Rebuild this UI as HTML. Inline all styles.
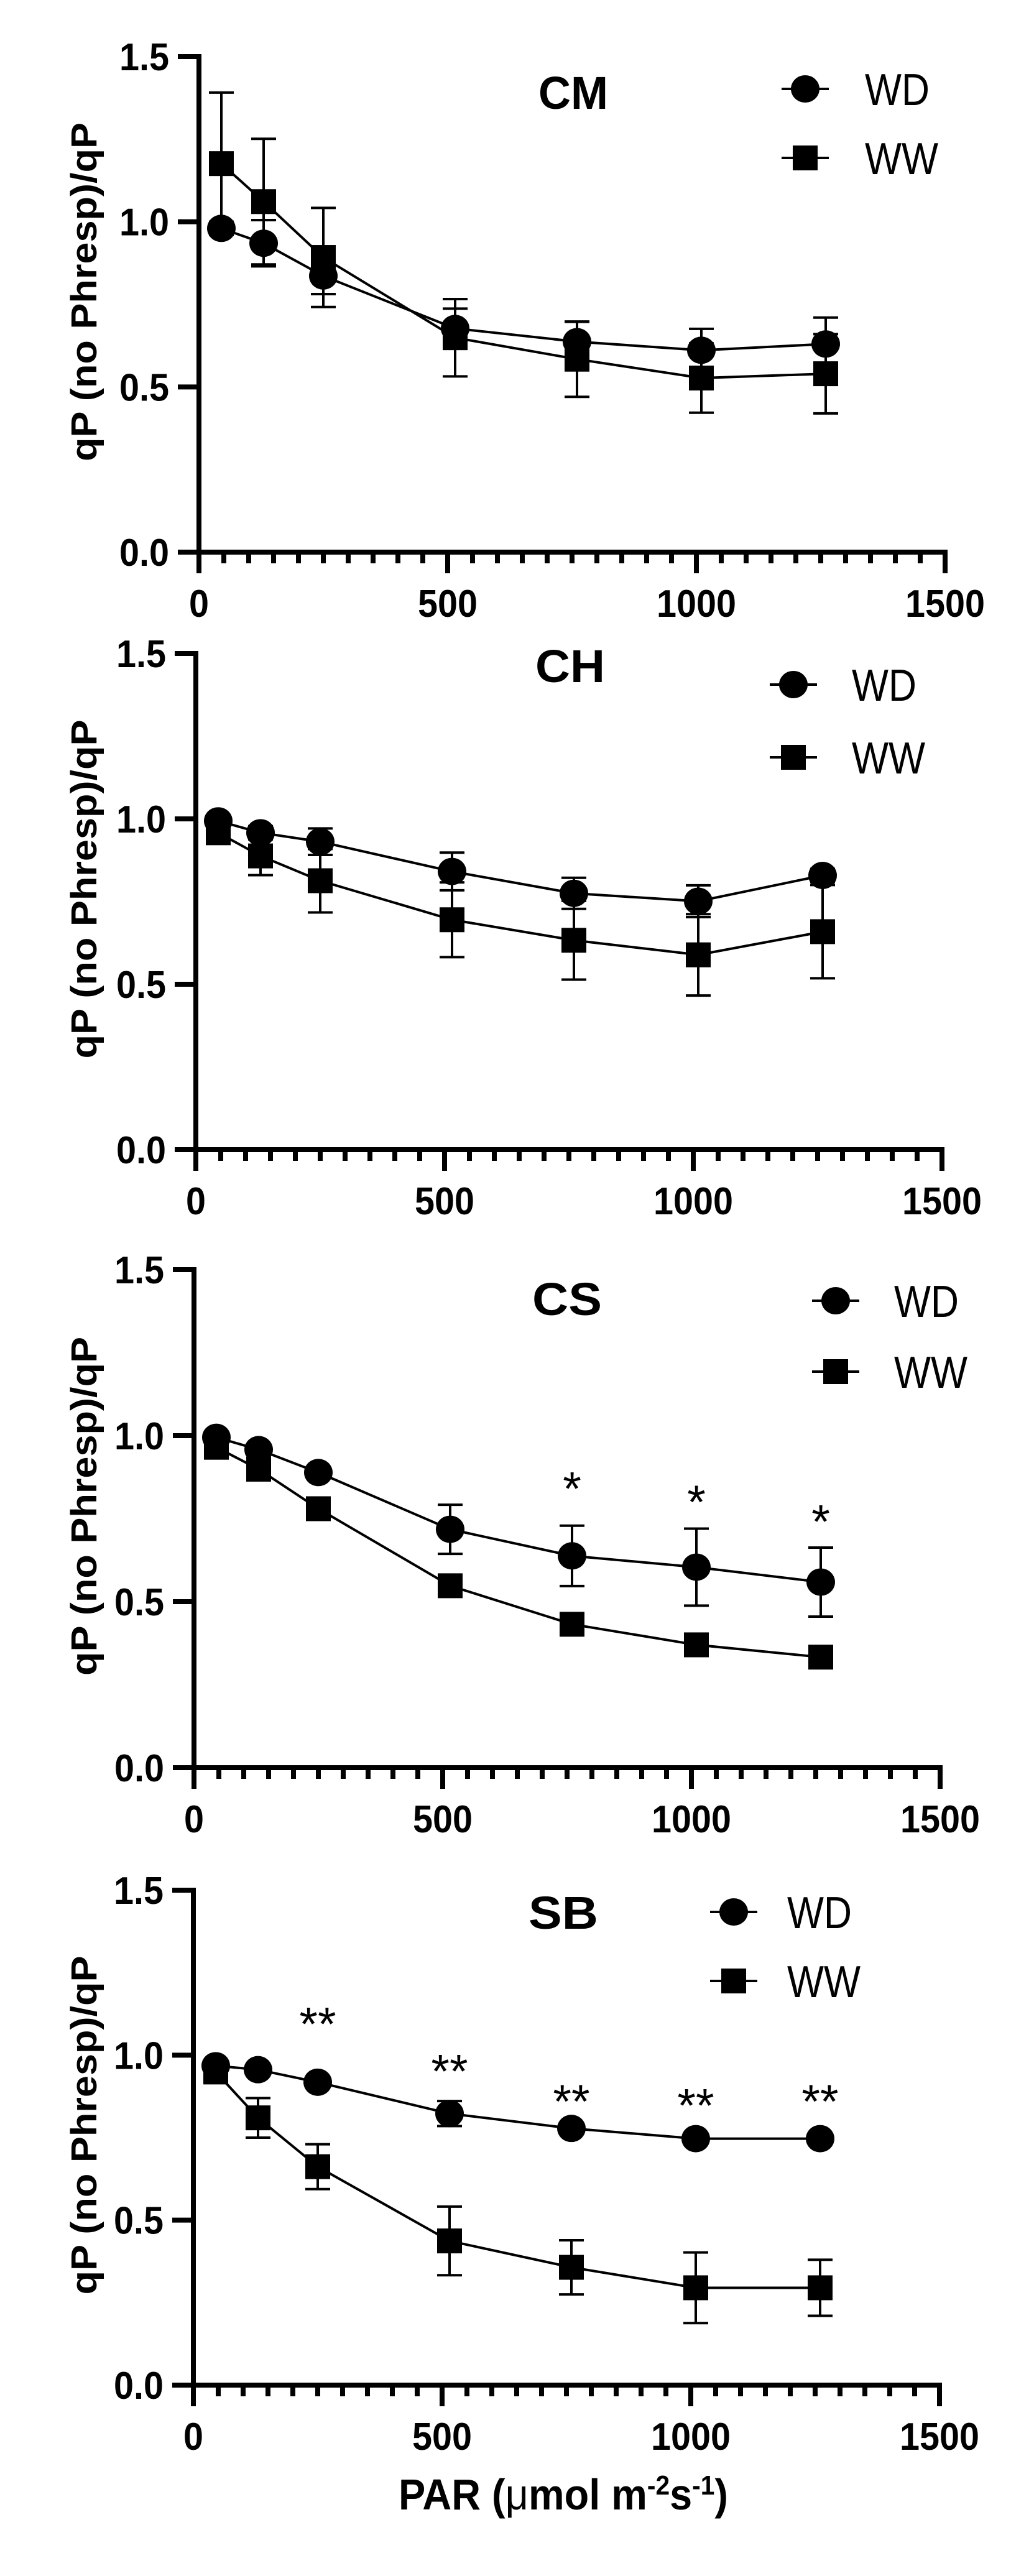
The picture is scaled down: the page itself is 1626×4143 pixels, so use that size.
<!DOCTYPE html>
<html><head><meta charset="utf-8"><style>
html,body{margin:0;padding:0;background:#fff;}
svg{display:block;}
text{font-family:"Liberation Sans",sans-serif;fill:#000;}
</style></head><body>
<svg id="fig" width="1626" height="4143" viewBox="0 0 1626 4143" xmlns="http://www.w3.org/2000/svg"></svg>
<script>
const parValues = [45, 130, 250, 515, 760, 1010, 1260];
const panelNames = ["CM", "CH", "CS", "SB"];
const xTicks = [0, 500, 1000, 1500];
const yTicks = [0, 0.5, 1.0, 1.5];
const yTickLabels = ["0.0", "0.5", "1.0", "1.5"];
const xTickLabels = ["0", "500", "1000", "1500"];
// WD (circle) series
const wdCM = [0.98, 0.935, 0.836, 0.677, 0.637, 0.611, 0.63];
const wdCMerr = [0.02, 0.07, 0.055, 0.06, 0.06, 0.065, 0.08];
const wdCH = [0.994, 0.958, 0.931, 0.841, 0.775, 0.751, 0.829];
const wdCHerr = [0.015, 0.02, 0.04, 0.057, 0.047, 0.048, 0.02];
const wdCS = [0.995, 0.958, 0.889, 0.718, 0.638, 0.604, 0.559];
const wdCSerr = [0.01, 0.01, 0.01, 0.074, 0.091, 0.116, 0.104];
const wdSB = [0.968, 0.956, 0.918, 0.823, 0.778, 0.747, 0.747];
const wdSBerr = [0.01, 0.01, 0.01, 0.038, 0.01, 0.01, 0.01];
// WW (square) series
const wwCM = [1.176, 1.061, 0.892, 0.649, 0.584, 0.527, 0.54];
const wwCMerr = [0.215, 0.19, 0.15, 0.117, 0.114, 0.105, 0.12];
const wwCH = [0.958, 0.888, 0.813, 0.695, 0.633, 0.589, 0.659];
const wwCHerr = [0.02, 0.058, 0.096, 0.113, 0.119, 0.123, 0.141];
const wwCS = [0.965, 0.899, 0.78, 0.548, 0.432, 0.37, 0.333];
const wwCSerr = [0.015, 0.015, 0.015, 0.015, 0.02, 0.02, 0.02];
const wwSB = [0.949, 0.81, 0.662, 0.437, 0.357, 0.295, 0.295];
const wwSBerr = [0.01, 0.06, 0.068, 0.104, 0.082, 0.107, 0.085];
// significance marks
const sigCS = [null, null, null, null, "*", "*", "*"];
const sigCSy = [0, 0, 0, 0, 0.866, 0.826, 0.767];
const sigSB = [null, null, "**", "**", "**", "**", "**"];
const sigSBy = [0, 0, 1.12, 0.977, 0.886, 0.873, 0.886];

const wdAll = [wdCM, wdCH, wdCS, wdSB];
const wdErrAll = [wdCMerr, wdCHerr, wdCSerr, wdSBerr];
const wwAll = [wwCM, wwCH, wwCS, wwSB];
const wwErrAll = [wwCMerr, wwCHerr, wwCSerr, wwSBerr];
const sigAll = [null, null, sigCS, sigSB];
const sigYAll = [null, null, sigCSy, sigSBy];

// layout (pixels)
const layout = [
  {x0:320, y0:888, top:91, title:[922,148], leg:[1295,143,1391,254]},
  {x0:315, y0:1849, top:1051, title:[917,1070], leg:[1276,1101,1370,1218]},
  {x0:312, y0:2843, top:2042, title:[912,2088], leg:[1344,2092,1438,2206]},
  {x0:311, y0:3836, top:3040, title:[906,3075], leg:[1180,3075,1266,3186]}
];

const NS = "http://www.w3.org/2000/svg";
const svg = document.getElementById("fig");
function mk(tag, attrs, parent, txt){
  const e = document.createElementNS(NS, tag);
  for (const k in attrs) e.setAttribute(k, attrs[k]);
  if (txt !== undefined) e.textContent = txt;
  (parent || svg).appendChild(e);
  return e;
}

layout.forEach((L, p) => {
  const g = mk("g", {});
  
  
  const xs = v => L.x0 + v / 1500 * 1200;
  const ys = v => L.y0 - v / 1.5 * (L.y0 - L.top);

  const ya = mk("line", {x1:L.x0, y1:L.top - 4, x2:L.x0, y2:L.y0 + 34, stroke:"#000", "stroke-width":8}, g);
  
  
  const xa = mk("line", {x1:L.x0 - 34, y1:L.y0, x2:xs(1500) + 4, y2:L.y0, stroke:"#000", "stroke-width":8}, g);
  
  
  for (let v = 50; v <= 1500; v += 50) {
    const major = v % 500 === 0;
    const t = mk("line", {x1:xs(v), y1:L.y0, x2:xs(v), y2:L.y0 + (major ? 34 : 18), stroke:"#000", "stroke-width":8}, g);
    
    
  }
  yTicks.forEach((v, i) => {
    const t = mk("line", {x1:L.x0 - 34, y1:ys(v), x2:L.x0, y2:ys(v), stroke:"#000", "stroke-width":8}, g);
    
    
    const lb = mk("text", {x:L.x0 - 48, y:ys(v) + 22, "text-anchor":"end", "font-size":62, "font-weight":"bold", textLength:80, lengthAdjust:"spacingAndGlyphs"}, g, yTickLabels[i]);
    
    
  });
  xTicks.forEach((v, i) => {
    const lb = mk("text", {x:xs(v), y:L.y0 + 104, "text-anchor":"middle", "font-size":62, "font-weight":"bold", textLength:xTickLabels[i].length * 32, lengthAdjust:"spacingAndGlyphs"}, g, xTickLabels[i]);
    
    
  });
  const cy = (L.top + L.y0) / 2 - 20;
  const yt = mk("text", {x:0, y:0, transform:"translate(155," + cy + ") rotate(-90)", "text-anchor":"middle", "font-size":58, "font-weight":"bold", textLength:545, lengthAdjust:"spacingAndGlyphs"}, g, "qP (no Phresp)/qP");
  
  
  const tt = mk("text", {x:L.title[0], y:L.title[1] + 27, "text-anchor":"middle", "font-size":74, "font-weight":"bold", textLength:panelNames[p].length * 56, lengthAdjust:"spacingAndGlyphs"}, g, panelNames[p]);
  
  

  const wd = wdAll[p], wde = wdErrAll[p], ww = wwAll[p], wwe = wwErrAll[p];
  function series(vals, errs, shape, name){
    const sg = mk("g", {}, g);
    
    
    const pts = vals.map((v, i) => xs(parValues[i]) + "," + ys(v)).join(" ");
    const pl = mk("polyline", {points:pts, fill:"none", stroke:"#000", "stroke-width":4}, sg);
    
    
    vals.forEach((v, i) => {
      const x = xs(parValues[i]);
      const hi = ys(v + errs[i]), lo = ys(v - errs[i]);
      const eb = mk("path", {d:"M" + x + " " + hi + "V" + lo + "M" + (x - 20) + " " + hi + "H" + (x + 20) + "M" + (x - 20) + " " + lo + "H" + (x + 20), stroke:"#000", "stroke-width":4, fill:"none"}, sg);
      
      
      let m;
      if (shape === "circle") m = mk("ellipse", {cx:x, cy:ys(v), rx:23, ry:22, fill:"#000"}, sg);
      else m = mk("rect", {x:x - 20, y:ys(v) - 20, width:40, height:40, fill:"#000"}, sg);
      
      
    });
  }
  series(ww, wwe, "square", "ww");
  series(wd, wde, "circle", "wd");

  const sig = sigAll[p], sigY = sigYAll[p];
  if (sig) sig.forEach((s, i) => {
    if (!s) return;
    const st = mk("text", {x:xs(parValues[i]), y:ys(sigY[i]) + 40, "text-anchor":"middle", "font-size":76}, g, s);
    
    
  });

  const lg = mk("g", {}, g);
  
  
  const [lx, ly1, tx, ly2] = L.leg;
  const e1 = mk("g", {}, lg);
  
  
  mk("line", {x1:lx - 38, y1:ly1, x2:lx + 38, y2:ly1, stroke:"#000", "stroke-width":4}, e1);
  mk("ellipse", {cx:lx, cy:ly1, rx:23, ry:22, fill:"#000"}, e1);
  mk("text", {x:tx, y:ly1 + 26, "font-size":72, textLength:104, lengthAdjust:"spacingAndGlyphs"}, e1, "WD");
  const e2 = mk("g", {}, lg);
  
  
  mk("line", {x1:lx - 38, y1:ly2, x2:lx + 38, y2:ly2, stroke:"#000", "stroke-width":4}, e2);
  mk("rect", {x:lx - 20, y:ly2 - 20, width:40, height:40, fill:"#000"}, e2);
  mk("text", {x:tx, y:ly2 + 26, "font-size":72, textLength:118, lengthAdjust:"spacingAndGlyphs"}, e2, "WW");
});

const xt = mk("text", {x:906, y:4036, "text-anchor":"middle", "font-size":70, "font-weight":"bold"});


xt.innerHTML = 'PAR (<tspan font-weight="normal">μ</tspan>mol m<tspan dy="-24" font-size="44">-2</tspan><tspan dy="24">s</tspan><tspan dy="-24" font-size="44">-1</tspan><tspan dy="24">)</tspan>';
xt.setAttribute('textLength', 530);
xt.setAttribute('lengthAdjust', 'spacingAndGlyphs');
</script>
</body></html>
